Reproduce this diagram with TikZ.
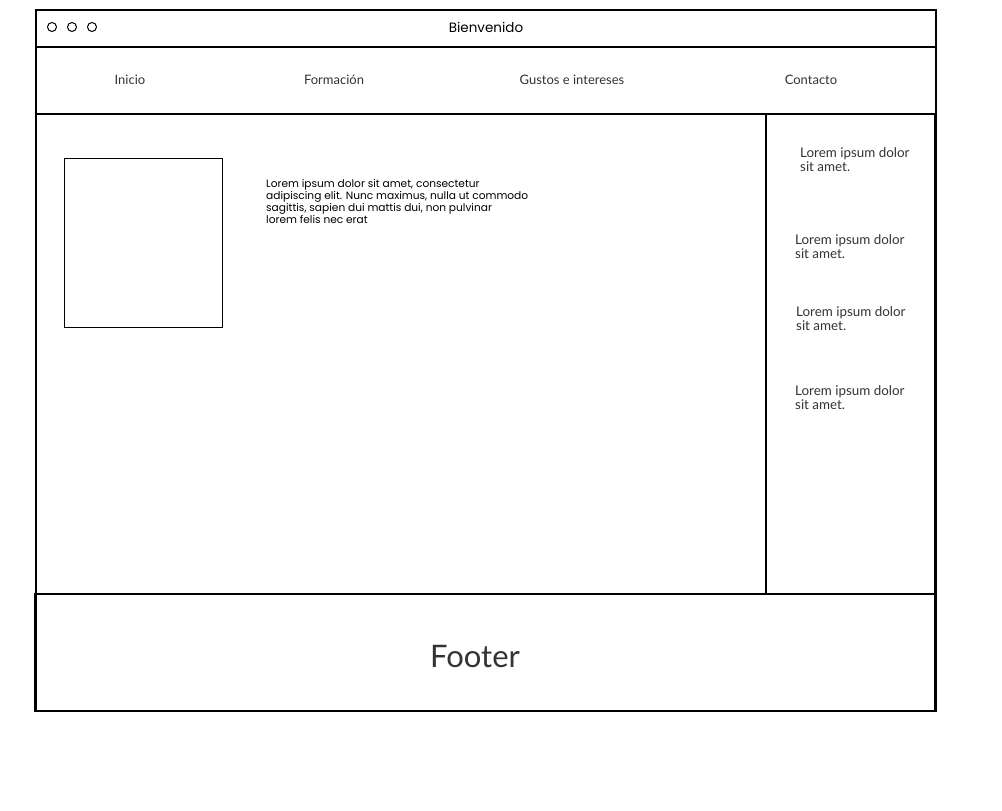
\documentclass[tikz,border=0pt]{standalone}
\usepackage{fontspec}
\setmainfont{Lato}
\newfontfamily\sketchfont{Poppins}
\usetikzlibrary{positioning}
\definecolor{ink}{HTML}{333333}
\tikzset{
  frame/.style={draw=black, line width=1.1pt},
  dot/.style={circle, draw=black, line width=1pt, minimum size=9pt, inner sep=0pt},
  navlabel/.style={text=ink, font=\fontsize{13}{15}\selectfont, inner sep=0pt},
  sidelabel/.style={text=ink, font=\fontsize{13.4}{14}\selectfont, inner sep=0pt, anchor=north west, align=left},
  sketchtext/.style={font=\sketchfont\fontsize{10.6}{12}\selectfont, inner sep=0pt, anchor=north west, align=left}
}

\begin{document}
\begin{tikzpicture}[x=1pt,y=-1pt]
			\useasboundingbox (0,0) rectangle (1002,811);
			% window and bars
			\draw[frame] (36,10) rectangle (936,711);
			\draw[frame] (36,47) -- (936,47);
			\draw[frame] (36,114) -- (936,114);
			\draw[frame] (766,114) rectangle (935,594);
			\draw[frame] (35,594) rectangle (935,711);
			% title bar
			\foreach \i/\x in {1/52,2/72,3/92}
			  \node[dot] (dot\i) at (\x,27) {};
			\node[font=\sketchfont\fontsize{13.5}{16}\selectfont] (title) at (486,27) {Bienvenido};
			% menu
			\node[navlabel] (inicio) at (130,80) {Inicio};
			\node[navlabel] (formacion) at (334,80) {Formación};
			\node[navlabel] (gustos) at (572,80) {Gustos e intereses};
			\node[navlabel] (contacto) at (811,80) {Contacto};
			% content
			\node[draw, line width=1pt, minimum width=158pt, minimum height=169pt, anchor=north west] (photo) at (64,158) {};
			\node[sketchtext] (intro) at (266,179) {Lorem ipsum dolor sit amet, consectetur\\adipiscing elit. Nunc maximus, nulla ut commodo\\sagittis, sapien dui mattis dui, non pulvinar\\lorem felis nec erat};
			% sidebar
			\node[sidelabel] (side1) at (800,147) {Lorem ipsum dolor\\sit amet.};
			\node[sidelabel] (side2) at (795,234) {Lorem ipsum dolor\\sit amet.};
			\node[sidelabel] (side3) at (796,306) {Lorem ipsum dolor\\sit amet.};
			\node[sidelabel] (side4) at (795,385) {Lorem ipsum dolor\\sit amet.};
			% footer
			\node[text=ink, font=\fontsize{31}{36}\selectfont] (footer) at (475,657) {Footer};
\end{tikzpicture}
\end{document}
